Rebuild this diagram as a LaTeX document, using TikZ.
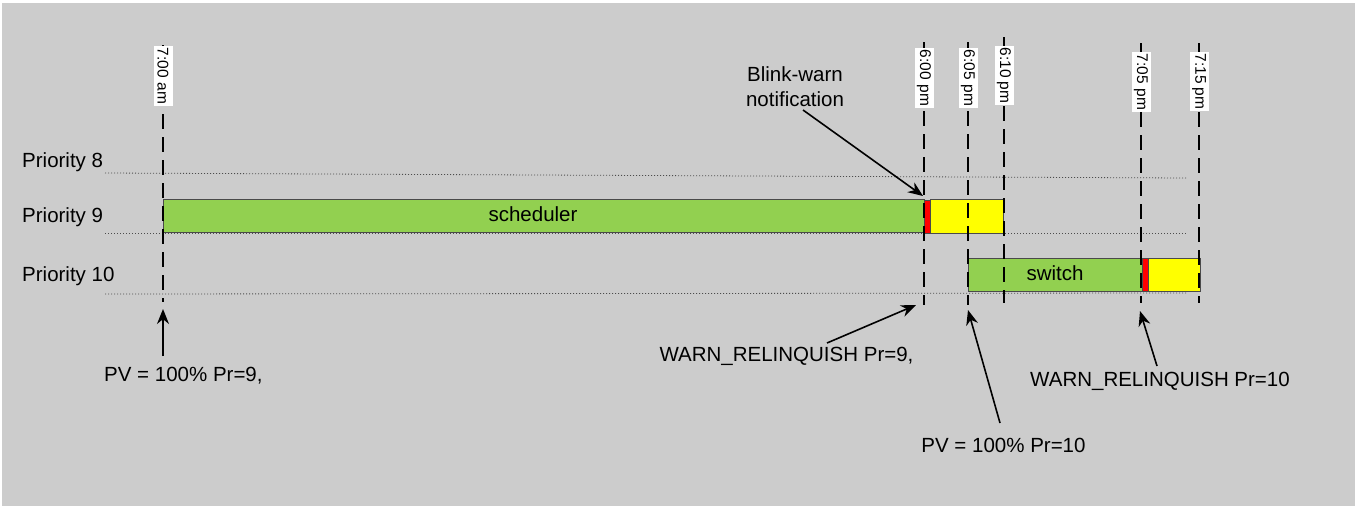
\documentclass[tikz,border=0pt]{standalone}
\usepackage{fontspec}
\setmainfont{Liberation Sans}
\usetikzlibrary{arrows.meta}
\definecolor{bg}{HTML}{CCCCCC}
\definecolor{bargreen}{HTML}{92D050}
\definecolor{baryellow}{HTML}{FFFF00}
\definecolor{barred}{HTML}{FF0000}
\definecolor{edge}{HTML}{4A4A4A}
\tikzset{
  lbl/.style={font=\fontsize{20.5}{24}\selectfont, inner sep=0pt, text=black},
  timelbl/.style={font=\fontsize{15.5}{17}\selectfont, rotate=-90, fill=white, inner sep=1.5pt, minimum height=19pt},
  tline/.style={line width=1.8pt, dash pattern=on 15pt off 8pt, black},
  prio/.style={line width=0.8pt, dash pattern=on 1pt off 2pt, black!70},
  bar/.style={draw=edge, line width=0.9pt, inner sep=0pt},
  callout/.style={line width=1.6pt, -{Stealth[length=15pt,width=12pt]}},
}
\begin{document}
\begin{tikzpicture}[x=1pt,y=-1pt]
\useasboundingbox (0,0) rectangle (1355,506);
\fill[white] (0,0) rectangle (1355,506);
\fill[bg] (2,3) rectangle (1355,506);

% priority labels and dotted lines
\node[lbl, anchor=west] (p8) at (22,162) {Priority 8};
\node[lbl, anchor=west] (p9) at (22,217) {Priority 9};
\node[lbl, anchor=west] (p10) at (22,276) {Priority 10};
\coordinate (p8a) at (105,173); \coordinate (p8b) at (1186,178);
\coordinate (p9a) at (105,233); \coordinate (p9b) at (1186,233);
\coordinate (p10a) at (105,294); \coordinate (p10b) at (1186,293);
\draw[prio] (p8a) -- (p8b);
\draw[prio] (p9a) -- (p9b);
\draw[prio] (p10a) -- (p10b);

% bars
\draw[bar, fill=bargreen] (163,199) rectangle (924,232);
\node[lbl] (sched) at (533,214) {scheduler};
\draw[bar, fill=barred] (924,200) rectangle (930,233);
\draw[bar, fill=baryellow] (930,199) rectangle (1003,233);
\draw[bar, fill=bargreen] (968,258) rectangle (1142,291);
\node[lbl] (sw) at (1055,273) {switch};
\draw[bar, fill=barred] (1142,258) rectangle (1148,291);
\draw[bar, fill=baryellow] (1148,258) rectangle (1200,291);

% time lines
\coordinate (t1a) at (163,45);  \coordinate (t1b) at (163,302);
\coordinate (t2a) at (924,42);  \coordinate (t2b) at (924,305);
\coordinate (t3a) at (968,42);  \coordinate (t3b) at (968,305);
\coordinate (t4a) at (1004,37); \coordinate (t4b) at (1004,303);
\coordinate (t5a) at (1141,43); \coordinate (t5b) at (1141,303);
\coordinate (t6a) at (1199,43); \coordinate (t6b) at (1199,303);
\draw[tline] (t1a) -- (t1b);
\draw[tline] (t2a) -- (t2b);
\draw[tline] (t3a) -- (t3b);
\draw[tline] (t4a) -- (t4b);
\draw[tline] (t5a) -- (t5b);
\draw[tline] (t6a) -- (t6b);
\node[timelbl] (l1) at (163,76) {7:00 am};
\node[timelbl] (l2) at (924,78) {6:00 pm};
\node[timelbl] (l3) at (968,78) {6:05 pm};
\node[timelbl] (l4) at (1004,75.5) {6:10 pm};
\node[timelbl] (l5) at (1141,82) {7:05 pm};
\node[timelbl] (l6) at (1199,81.5) {7:15 pm};

% callouts
\node[lbl, align=center, font=\fontsize{20.5}{25}\selectfont] (blink) at (795,87) {Blink-warn\\notification};
\coordinate (blinkS) at (803,110); \coordinate (blinkT) at (923,196);
\draw[callout] (blinkS) -- (blinkT);

\node[lbl, anchor=west] (pv9) at (104,376) {PV = 100\% Pr=9,};
\coordinate (pv9S) at (163,356); \coordinate (pv9T) at (163,309);
\draw[callout] (pv9S) -- (pv9T);

\node[lbl] (wr9) at (786.5,356) {WARN\_RELINQUISH Pr=9,};
\coordinate (wr9S) at (827,343); \coordinate (wr9T) at (916,305);
\draw[callout] (wr9S) -- (wr9T);

\node[lbl] (pv10) at (1003.5,445) {PV = 100\% Pr=10};
\coordinate (pv10S) at (1000,423); \coordinate (pv10T) at (968,310);
\draw[callout] (pv10S) -- (pv10T);

\node[lbl] (wr10) at (1160,381) {WARN\_RELINQUISH Pr=10};
\coordinate (wr10S) at (1157,366); \coordinate (wr10T) at (1140,311);
\draw[callout] (wr10S) -- (wr10T);
\end{tikzpicture}
\end{document}
